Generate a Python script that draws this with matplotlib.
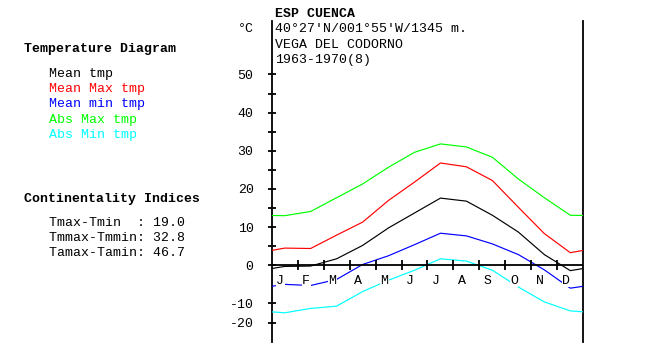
import numpy as np
import matplotlib
matplotlib.use('Agg')
import matplotlib.pyplot as plt

# monthly values (deg C)
months = ['J', 'F', 'M', 'A', 'M', 'J', 'J', 'A', 'S', 'O', 'N', 'D']
mean_tmp = [-0.3, -0.2, 1.7, 5.2, 9.8, 13.7, 17.6, 16.8, 13.1, 8.7, 2.8, -1.4]
mean_max = [4.5, 4.4, 7.9, 11.3, 17.0, 21.8, 26.8, 25.8, 22.2, 15.2, 8.3, 3.3]
mean_min = [-5.0, -5.3, -3.7, 0.2, 2.5, 5.4, 8.4, 7.7, 5.6, 2.8, -1.2, -6.0]
abs_max = [13.0, 14.1, 17.7, 21.3, 25.7, 29.6, 31.8, 31.0, 28.3, 22.6, 17.7, 13.1]
abs_min = [-14.9, -12.6, -11.4, -6.9, -3.9, -1.3, 1.7, 1.1, -1.3, -5.7, -9.6, -13.9]

series = [
    (mean_tmp, 'black', 'Mean tmp'),
    (mean_max, '#ff0000', 'Mean Max tmp'),
    (mean_min, '#0000ff', 'Mean min tmp'),
    (abs_max, '#00ff00', 'Abs Max tmp'),
    (abs_min, '#00ffff', 'Abs Min tmp'),
]
indices = [('Tmax-Tmin  ', '19.0'), ('Tmmax-Tmmin', '32.8'), ('Tamax-Tamin', '46.7')]
header = ['40°27\'N/001°55\'W/1345 m.', 'VEGA DEL CODORNO', '1963-1970(8)']
station = 'ESP CUENCA'
yticks = [50, 40, 30, 20, 10, 0, -10, -20]
yminor = [45, 35, 25, 15, 5]

mono = 'Liberation Mono'
fs = 9.5
W, H = 647, 353


# below -10 the diagram squeezes the scale to half
def fwd(y):
    y = np.asarray(y, dtype=float)
    return np.where(y >= -10, y, -10 + (y + 10) / 2.0)


def inv(v):
    v = np.asarray(v, dtype=float)
    return np.where(v >= -10, v, -10 + (v + 10) * 2.0)


fig = plt.figure(figsize=(W / 100, H / 100), dpi=100)
ax = fig.add_axes([271.7 / W, 1 - 342 / H, 311.6 / W, (342 - 21) / H])
ax.set_yscale('function', functions=(fwd, inv))
ax.set_xlim(0, 12)
ax.set_ylim(-30.2, 64)

for vals, col, lab in series:
    edge = (vals[0] + vals[-1]) / 2.0
    xs = [0] + [i + 0.5 for i in range(12)] + [12]
    ys = [edge] + list(vals) + [edge]
    ax.plot(xs, ys, color=col, lw=0.85, zorder=3)

ax.axhline(0, color='black', lw=1.3, zorder=4)
ax.plot(range(1, 12), [0] * 11, ls='none', marker='|', ms=7, mew=1.3,
        color='black', zorder=4)
for i, m in enumerate(months):
    ax.text(i + 0.33, -4.1, m, ha='center', va='center', family=mono,
            fontsize=fs, zorder=5,
            bbox=dict(facecolor='white', edgecolor='none', pad=0.3))

for s in ['top', 'bottom']:
    ax.spines[s].set_visible(False)
for s in ['left', 'right']:
    ax.spines[s].set_linewidth(1.3)
ax.set_xticks([])
ax.set_yticks(yticks)
ax.set_yticks(yminor, minor=True)
ax.set_yticklabels([str(t) for t in yticks], family=mono, fontsize=fs)
ax.tick_params(axis='y', which='both', direction='inout', length=6,
               width=1.3, pad=10)
ax.yaxis.set_minor_formatter(plt.NullFormatter())


def ftext(x, y, s, **kw):
    fig.text(x / W, 1 - y / H, s, va='center', ha='left', family=mono,
             fontsize=fs, **kw)


ftext(275, 14, station, weight='bold')
ftext(238, 29.5, '°C')
for k, line in enumerate(header):
    ftext(275, 29.5 + 15.3 * k, line)

ftext(24, 49, 'Temperature Diagram', weight='bold')
for k, (vals, col, lab) in enumerate(series):
    ftext(49, 74 + 15.2 * k, lab, color=col)

ftext(24, 199, 'Continentality Indices', weight='bold')
for k, (name, v) in enumerate(indices):
    ftext(49, 223.3 + 15 * k, name + ': ' + v)

fig.savefig('out.png', dpi=100, facecolor='white')
